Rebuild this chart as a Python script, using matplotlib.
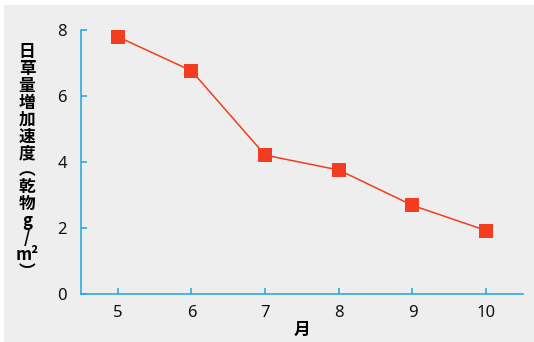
import matplotlib.pyplot as plt
from matplotlib.patches import Rectangle

plt.rcParams['font.family'] = ['Noto Sans CJK JP', 'DejaVu Sans']

months = [5, 6, 7, 8, 9, 10]
growth = [7.78, 6.75, 4.2, 3.75, 2.68, 1.92]
ylabel_chars = ['日', '草', '量', '増', '加', '速', '度', '︵', '乾', '物', 'g', '/', 'm²', '︶']

W, H = 534, 342
fig = plt.figure(figsize=(W / 100, H / 100), dpi=100, facecolor='white')
fig.patches.append(Rectangle((4 / W, 0), 1, 1 - 5 / H, transform=fig.transFigure,
                             facecolor='#eeeeee', edgecolor='none', zorder=-1))

ax = fig.add_axes([81 / W, 1 - 294 / H, (523 - 81) / W, (294 - 29.5) / H])
ax.set_facecolor('none')
ax.plot(months, growth, color='#f23d1f', lw=1.1, marker='s', ms=10,
        markeredgewidth=0, clip_on=False)

ax.set_xlim(4.5, 10.5)
ax.set_ylim(0, 8)
ax.set_xticks(months)
ax.set_yticks([0, 2, 4, 6, 8])
for s in ['top', 'right']:
    ax.spines[s].set_visible(False)
for s in ['left', 'bottom']:
    ax.spines[s].set_color('#29abe2')
    ax.spines[s].set_linewidth(1.2)
ax.tick_params(direction='in', length=4, width=1.2, color='#29abe2',
               labelsize=12, labelcolor='#111111')
for lab in ax.get_xticklabels() + ax.get_yticklabels():
    lab.set_family(['Noto Sans', 'DejaVu Sans'])
ax.tick_params(axis='x', pad=8)
ax.tick_params(axis='y', pad=10)

ax.set_xlabel('月', fontsize=12, fontweight='bold', labelpad=0)

y0, y1 = 52, 272
n = len(ylabel_chars)
for i, c in enumerate(ylabel_chars):
    yy = y0 + (y1 - y0) * i / (n - 1)
    fig.text(27 / W, 1 - yy / H, c, fontsize=12, fontweight='bold',
             ha='center', va='center')

fig.savefig('out.png', dpi=100, facecolor=fig.get_facecolor())
